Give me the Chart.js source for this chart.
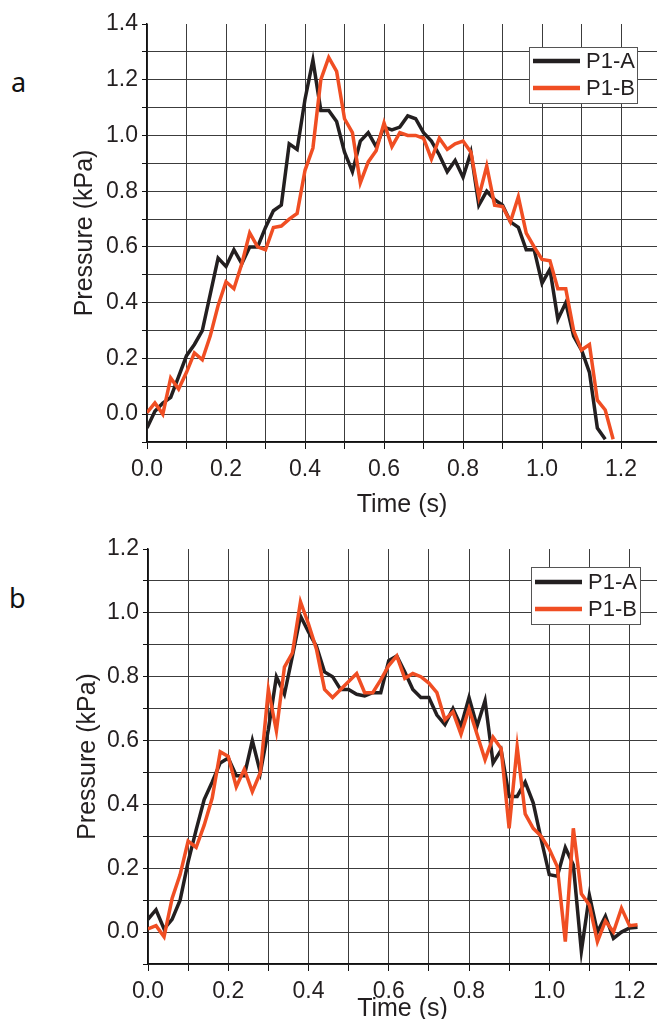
<!DOCTYPE html>
<html>
<head>
<meta charset="utf-8">
<script src="https://cdn.jsdelivr.net/npm/chart.js@4"></script>
<style>
  body { margin: 0; background: #fff; }
  #page { position: relative; width: 657px; height: 1019px; overflow: hidden; background: #fff; }
  .panel { position: absolute; left: 0; }
  .tag { position: absolute; font-family: "Noto Sans", sans-serif; font-size: 27px; line-height: 1; color: #111; }
</style>
</head>
<body>
<div id="page">
  <div class="tag" style="left:11px; top:68px">a</div>
  <div class="tag" style="left:9px; top:584px">b</div>
  <canvas id="chartA" class="panel" style="top:0" width="657" height="520"></canvas>
  <canvas id="chartB" class="panel" style="top:520px" width="657" height="510"></canvas>
</div>
<script>
// panel a
const timeA = [0.00, 0.02, 0.04, 0.06, 0.08, 0.10, 0.12, 0.14, 0.16, 0.18,
  0.20, 0.22, 0.24, 0.26, 0.28, 0.30, 0.32, 0.34, 0.36, 0.38,
  0.40, 0.42, 0.44, 0.46, 0.48, 0.50, 0.52, 0.54, 0.56, 0.58,
  0.60, 0.62, 0.64, 0.66, 0.68, 0.70, 0.72, 0.74, 0.76, 0.78,
  0.80, 0.82, 0.84, 0.86, 0.88, 0.90, 0.92, 0.94, 0.96, 0.98,
  1.00, 1.02, 1.04, 1.06, 1.08, 1.10, 1.12, 1.14, 1.16, 1.18]
const p1aA = [-0.05, 0.01, 0.04, 0.06, 0.135, 0.21, 0.25, 0.30, 0.43, 0.56,
  0.53, 0.59, 0.54, 0.60, 0.60, 0.67, 0.73, 0.75, 0.97, 0.95,
  1.13, 1.27, 1.09, 1.09, 1.05, 0.94, 0.87, 0.98, 1.01, 0.96,
  1.03, 1.02, 1.03, 1.07, 1.06, 1.01, 0.98, 0.93, 0.87, 0.91,
  0.85, 0.94, 0.75, 0.80, 0.77, 0.75, 0.69, 0.67, 0.59, 0.59,
  0.47, 0.52, 0.34, 0.40, 0.28, 0.23, 0.15, -0.05, -0.09]
const p1bA = [0.005, 0.04, 0.0, 0.13, 0.09, 0.15, 0.22, 0.195, 0.28, 0.39,
  0.475, 0.45, 0.54, 0.65, 0.60, 0.59, 0.67, 0.675, 0.70, 0.72,
  0.875, 0.955, 1.20, 1.28, 1.23, 1.06, 1.01, 0.83, 0.905, 0.945,
  1.045, 0.96, 1.01, 1.00, 1.00, 0.99, 0.915, 0.99, 0.95, 0.97,
  0.98, 0.94, 0.78, 0.89, 0.75, 0.745, 0.69, 0.78, 0.65, 0.60,
  0.555, 0.55, 0.45, 0.45, 0.30, 0.23, 0.25, 0.05, 0.015, -0.09]

// panel b
const timeB = [0.00, 0.02, 0.04, 0.06, 0.08, 0.10, 0.12, 0.14, 0.16, 0.18,
  0.20, 0.22, 0.24, 0.26, 0.28, 0.30, 0.32, 0.34, 0.36, 0.38,
  0.40, 0.42, 0.44, 0.46, 0.48, 0.50, 0.52, 0.54, 0.56, 0.58,
  0.60, 0.62, 0.64, 0.66, 0.68, 0.70, 0.72, 0.74, 0.76, 0.78,
  0.80, 0.82, 0.84, 0.86, 0.88, 0.90, 0.92, 0.94, 0.96, 0.98,
  1.00, 1.02, 1.04, 1.06, 1.08, 1.10, 1.12, 1.14, 1.16, 1.18,
  1.20, 1.22]
const p1aB = [0.04, 0.07, 0.01, 0.04, 0.10, 0.22, 0.32, 0.415, 0.47, 0.53,
  0.545, 0.49, 0.49, 0.60, 0.50, 0.635, 0.80, 0.745, 0.865, 0.99,
  0.94, 0.895, 0.815, 0.80, 0.76, 0.76, 0.745, 0.74, 0.75, 0.75,
  0.85, 0.865, 0.815, 0.76, 0.735, 0.735, 0.68, 0.65, 0.70, 0.645,
  0.735, 0.645, 0.725, 0.53, 0.57, 0.425, 0.425, 0.47, 0.405, 0.29,
  0.18, 0.175, 0.265, 0.21, -0.06, 0.115, 0.0, 0.05, -0.02, 0.0,
  0.013, 0.015]
const p1bB = [0.01, 0.02, -0.015, 0.105, 0.18, 0.285, 0.265, 0.335, 0.42, 0.565,
  0.55, 0.455, 0.51, 0.44, 0.50, 0.76, 0.63, 0.83, 0.875, 1.035,
  0.965, 0.885, 0.76, 0.735, 0.76, 0.785, 0.81, 0.75, 0.75, 0.79,
  0.835, 0.865, 0.795, 0.81, 0.80, 0.78, 0.75, 0.665, 0.69, 0.62,
  0.70, 0.62, 0.54, 0.61, 0.575, 0.325, 0.58, 0.37, 0.325, 0.30,
  0.26, 0.205, -0.03, 0.325, 0.12, 0.085, -0.03, 0.035, 0.0, 0.075,
  0.02, 0.023]

const seriesNames = ['P1-A', 'P1-B']
const lineColors = ['#231f20', '#f04e23']
const gridColor = '#3c3c3c'
const inkColor = '#231f20'
const fontFamily = "'Liberation Sans', Arial, sans-serif"

function toPoints(times, vals) {
  return vals.map((v, i) => ({ x: times[i], y: v }))
}

// framed legend in the upper right of the plot
const boxLegend = {
  id: 'boxLegend',
  afterDatasetsDraw(chart, args, opts) {
    const ctx = chart.ctx
    ctx.save()
    ctx.fillStyle = '#fff'
    ctx.fillRect(opts.x, opts.y, opts.w, opts.h)
    ctx.strokeStyle = '#555'
    ctx.lineWidth = 1
    ctx.strokeRect(opts.x + 0.5, opts.y + 0.5, opts.w, opts.h)
    ctx.font = '22px ' + fontFamily
    ctx.textBaseline = 'middle'
    chart.data.datasets.forEach((ds, i) => {
      const yy = opts.y + opts.first + i * opts.gap
      ctx.strokeStyle = ds.borderColor
      ctx.lineWidth = 4.5
      ctx.beginPath()
      ctx.moveTo(opts.x + 4, yy)
      ctx.lineTo(opts.x + 51, yy)
      ctx.stroke()
      ctx.fillStyle = inkColor
      ctx.fillText(ds.label, opts.x + 57, yy + 1)
    })
    ctx.restore()
  }
}

function makeChart(id, times, a, b, cfg) {
  return new Chart(document.getElementById(id), {
    type: 'line',
    data: {
      datasets: [
        { label: seriesNames[0], data: toPoints(times, a), borderColor: lineColors[0], borderWidth: 3.5, pointRadius: 0, tension: 0, order: 2 },
        { label: seriesNames[1], data: toPoints(times, b), borderColor: lineColors[1], borderWidth: 3.5, pointRadius: 0, tension: 0, order: 1 }
      ]
    },
    options: {
      responsive: false,
      animation: false,
      layout: { padding: { top: cfg.padTop, right: 0, left: 0, bottom: 0 } },
      plugins: {
        legend: { display: false },
        tooltip: { enabled: false },
        boxLegend: cfg.legend
      },
      scales: {
        x: {
          type: 'linear',
          min: 0,
          max: cfg.xMax,
          afterFit: (s) => { s.height = cfg.xHeight },
          border: { color: '#111', width: 1.5 },
          grid: { color: gridColor, lineWidth: 1, tickLength: 7, tickColor: '#111' },
          ticks: {
            stepSize: 0.1,
            includeBounds: false,
            autoSkip: false,
            maxRotation: 0,
            padding: 7,
            color: inkColor,
            font: { family: fontFamily, size: 23 },
            callback: (v) => Math.round(v * 10) % 2 === 0 ? v.toFixed(1) : ''
          },
          title: { display: true, text: 'Time (s)', color: inkColor, font: { family: fontFamily, size: 25 }, padding: { top: 0, bottom: cfg.xTitlePad } }
        },
        y: {
          min: -0.1,
          max: cfg.yMax,
          afterFit: (s) => { s.width = cfg.yWidth },
          border: { color: '#111', width: 1.5 },
          grid: {
            color: (c) => c.tick && Math.abs(c.tick.value - cfg.yMax) < 1e-6 ? 'rgba(0,0,0,0)' : gridColor,
            lineWidth: 1,
            tickLength: 5,
            tickColor: '#111'
          },
          ticks: {
            stepSize: 0.1,
            autoSkip: false,
            padding: 4,
            color: inkColor,
            font: { family: fontFamily, size: 23 },
            callback: (v) => Math.round(v * 10) % 2 === 0 ? v.toFixed(1) : ''
          },
          title: { display: true, text: 'Pressure (kPa)', color: inkColor, font: { family: fontFamily, size: 25 }, padding: { top: cfg.yTitlePad, bottom: 0 } }
        }
      }
    },
    plugins: [boxLegend]
  })
}

makeChart('chartA', timeA, p1aA, p1bA, {
  padTop: 24, xMax: 1.291, yMax: 1.4, xHeight: 78, yWidth: 147, xTitlePad: 0, yTitlePad: 70,
  legend: { x: 529, y: 47, w: 108, h: 56, first: 14, gap: 27 }
})
makeChart('chartB', timeB, p1aB, p1bB, {
  padTop: 29, xMax: 1.2685, yMax: 1.2, xHeight: 66, yWidth: 148, xTitlePad: 6, yTitlePad: 73,
  legend: { x: 531, y: 47, w: 109, h: 57, first: 15, gap: 27 }
})
</script>
</body>
</html>
